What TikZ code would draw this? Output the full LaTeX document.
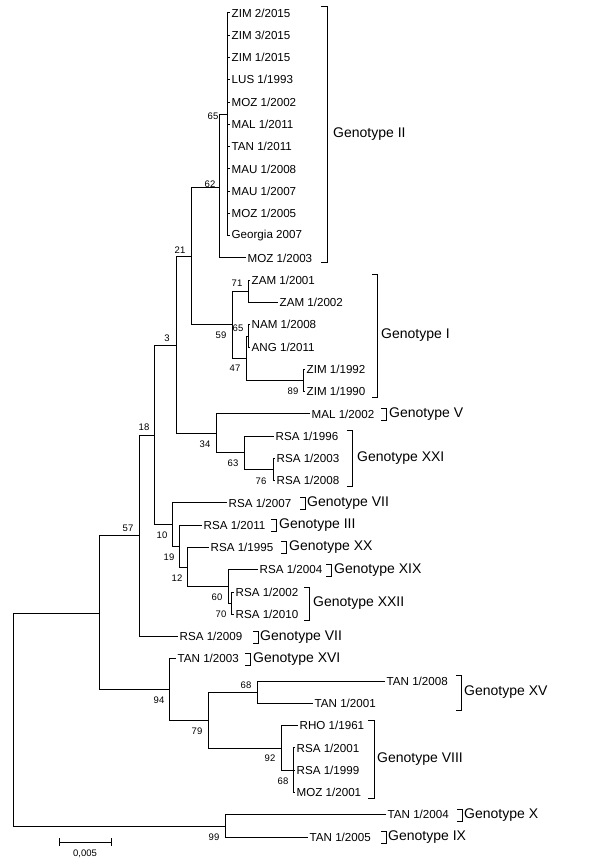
\documentclass[tikz,border=0pt]{standalone}
\usepackage{fontspec}
\setmainfont{Liberation Sans}
\usetikzlibrary{calc, positioning}

\tikzset{
  tip/.style={anchor=west, inner sep=1.5pt, font=\fontsize{11.6}{13}\selectfont},
  boot/.style={inner sep=0pt, font=\fontsize{9.5}{11}\selectfont},
  geno/.style={anchor=west, inner sep=0pt, font=\fontsize{14}{16}\selectfont},
  branch/.style={line width=1pt},
  bracket/.style={line width=0.9pt},
}

\begin{document}
\begin{tikzpicture}[x=1pt, y=-1pt]
  \useasboundingbox (0,0) rectangle (600,866);

  % Internal nodes of the tree
  \coordinate (root) at (13,720);
  \coordinate (n0) at (99,613);
  \coordinate (n57) at (139,535);
  \coordinate (n18) at (154,435);
  \coordinate (n3) at (176,345);
  \coordinate (n21) at (191,257);
  \coordinate (n62) at (219,188);
  \coordinate (n65a) at (227,115);
  \coordinate (n59) at (232,324);
  \coordinate (n71) at (248,291);
  \coordinate (n47) at (246,358);
  \coordinate (n65b) at (248,336);
  \coordinate (n89) at (303,380);
  \coordinate (n34) at (216,433);
  \coordinate (n63) at (244,452);
  \coordinate (n76) at (273,469);
  \coordinate (n10) at (172,524);
  \coordinate (n19) at (179,546);
  \coordinate (n12) at (187,567);
  \coordinate (n60) at (228,586);
  \coordinate (n70) at (231,603);
  \coordinate (n94) at (169,689);
  \coordinate (n79) at (208,720);
  \coordinate (n68a) at (257,692);
  \coordinate (n92) at (281,748);
  \coordinate (n68b) at (293,770);
  \coordinate (n99) at (225,826);

  % Tips
  \node[tip] (zim22015) at (230,13) {ZIM 2/2015};
  \node[tip] (zim32015) at (230,35.3) {ZIM 3/2015};
  \node[tip] (zim12015) at (230,57.5) {ZIM 1/2015};
  \node[tip] (lus11993) at (230,79.8) {LUS 1/1993};
  \node[tip] (moz12002) at (230,102.1) {MOZ 1/2002};
  \node[tip] (mal12011) at (230,124.4) {MAL 1/2011};
  \node[tip] (tan12011) at (230,146.6) {TAN 1/2011};
  \node[tip] (mau12008) at (230,168.9) {MAU 1/2008};
  \node[tip] (mau12007) at (230,191.2) {MAU 1/2007};
  \node[tip] (moz12005) at (230,213.4) {MOZ 1/2005};
  \node[tip] (geo2007) at (230,235.7) {Georgia 2007};
  \node[tip] (moz12003) at (246,258) {MOZ 1/2003};
  \node[tip] (zam12001) at (250,280.2) {ZAM 1/2001};
  \node[tip] (zam12002) at (278,302.5) {ZAM 1/2002};
  \node[tip] (nam12008) at (250,324.8) {NAM 1/2008};
  \node[tip] (ang12011) at (250,347) {ANG 1/2011};
  \node[tip] (zim11992) at (305,369.3) {ZIM 1/1992};
  \node[tip] (zim11990) at (305,391.6) {ZIM 1/1990};
  \node[tip] (mal12002) at (310,413.9) {MAL 1/2002};
  \node[tip] (rsa11996) at (274,436.1) {RSA 1/1996};
  \node[tip] (rsa12003) at (275,458.4) {RSA 1/2003};
  \node[tip] (rsa12008) at (275,480.7) {RSA 1/2008};
  \node[tip] (rsa12007) at (227,502.9) {RSA 1/2007};
  \node[tip] (rsa12011) at (202,525.2) {RSA 1/2011};
  \node[tip] (rsa11995) at (209,547.5) {RSA 1/1995};
  \node[tip] (rsa12004) at (258,569.8) {RSA 1/2004};
  \node[tip] (rsa12002) at (234,592) {RSA 1/2002};
  \node[tip] (rsa12010) at (234,614.3) {RSA 1/2010};
  \node[tip] (rsa12009) at (178,636.6) {RSA 1/2009};
  \node[tip] (tan12003) at (176,658.8) {TAN 1/2003};
  \node[tip] (tan12008) at (385,681.1) {TAN 1/2008};
  \node[tip] (tan12001) at (313,703.4) {TAN 1/2001};
  \node[tip] (rho11961) at (298,725.6) {RHO 1/1961};
  \node[tip] (rsa12001) at (295,747.9) {RSA 1/2001};
  \node[tip] (rsa11999) at (295,770.2) {RSA 1/1999};
  \node[tip] (moz12001) at (295,792.5) {MOZ 1/2001};
  \node[tip] (tan12004) at (386,814.7) {TAN 1/2004};
  \node[tip] (tan12005) at (308,837) {TAN 1/2005};

  % Branches
  \draw[branch] (root) |- (n0);
  \draw[branch] (root) |- (n99);
  \draw[branch] (n0) |- (n57);
  \draw[branch] (n0) |- (n94);
  \draw[branch] (n57) |- (n18);
  \draw[branch] (n57) |- (rsa12009.west);
  \draw[branch] (n18) |- (n3);
  \draw[branch] (n18) |- (n10);
  \draw[branch] (n3) |- (n21);
  \draw[branch] (n3) |- (n34);
  \draw[branch] (n21) |- (n62);
  \draw[branch] (n21) |- (n59);
  \draw[branch] (n62) |- (n65a);
  \draw[branch] (n62) |- (moz12003.west);
  \draw[branch] (n65a) |- (zim22015.west);
  \draw[branch] (n65a) |- (zim32015.west);
  \draw[branch] (n65a) |- (zim12015.west);
  \draw[branch] (n65a) |- (lus11993.west);
  \draw[branch] (n65a) |- (moz12002.west);
  \draw[branch] (n65a) |- (mal12011.west);
  \draw[branch] (n65a) |- (tan12011.west);
  \draw[branch] (n65a) |- (mau12008.west);
  \draw[branch] (n65a) |- (mau12007.west);
  \draw[branch] (n65a) |- (moz12005.west);
  \draw[branch] (n65a) |- (geo2007.west);
  \draw[branch] (n59) |- (n71);
  \draw[branch] (n59) |- (n47);
  \draw[branch] (n71) |- (zam12001.west);
  \draw[branch] (n71) |- (zam12002.west);
  \draw[branch] (n47) |- (n65b);
  \draw[branch] (n47) |- (n89);
  \draw[branch] (n65b) |- (nam12008.west);
  \draw[branch] (n65b) |- (ang12011.west);
  \draw[branch] (n89) |- (zim11992.west);
  \draw[branch] (n89) |- (zim11990.west);
  \draw[branch] (n34) |- (mal12002.west);
  \draw[branch] (n34) |- (n63);
  \draw[branch] (n63) |- (rsa11996.west);
  \draw[branch] (n63) |- (n76);
  \draw[branch] (n76) |- (rsa12003.west);
  \draw[branch] (n76) |- (rsa12008.west);
  \draw[branch] (n10) |- (rsa12007.west);
  \draw[branch] (n10) |- (n19);
  \draw[branch] (n19) |- (rsa12011.west);
  \draw[branch] (n19) |- (n12);
  \draw[branch] (n12) |- (rsa11995.west);
  \draw[branch] (n12) |- (n60);
  \draw[branch] (n60) |- (rsa12004.west);
  \draw[branch] (n60) |- (n70);
  \draw[branch] (n70) |- (rsa12002.west);
  \draw[branch] (n70) |- (rsa12010.west);
  \draw[branch] (n94) |- (tan12003.west);
  \draw[branch] (n94) |- (n79);
  \draw[branch] (n79) |- (n68a);
  \draw[branch] (n79) |- (n92);
  \draw[branch] (n68a) |- (tan12008.west);
  \draw[branch] (n68a) |- (tan12001.west);
  \draw[branch] (n92) |- (rho11961.west);
  \draw[branch] (n92) |- (n68b);
  \draw[branch] (n68b) |- (rsa12001.west);
  \draw[branch] (n68b) |- (rsa11999.west);
  \draw[branch] (n68b) |- (moz12001.west);
  \draw[branch] (n99) |- (tan12004.west);
  \draw[branch] (n99) |- (tan12005.west);

  % Bootstrap values
  \node[boot] (l65a) at (213,116) {65};
  \node[boot] (l62) at (210,184) {62};
  \node[boot] (l21) at (180,250) {21};
  \node[boot] (l3) at (167,338) {3};
  \node[boot] (l18) at (144,427) {18};
  \node[boot] (l57) at (128,528) {57};
  \node[boot] (l59) at (221,335) {59};
  \node[boot] (l71) at (237,283) {71};
  \node[boot] (l65b) at (238,328) {65};
  \node[boot] (l47) at (235,368) {47};
  \node[boot] (l89) at (293,391) {89};
  \node[boot] (l34) at (205,444) {34};
  \node[boot] (l63) at (233,463) {63};
  \node[boot] (l76) at (261,481) {76};
  \node[boot] (l10) at (162,535) {10};
  \node[boot] (l19) at (169,557) {19};
  \node[boot] (l12) at (177,578) {12};
  \node[boot] (l60) at (217,597) {60};
  \node[boot] (l70) at (221,614) {70};
  \node[boot] (l94) at (159,700) {94};
  \node[boot] (l79) at (197,731) {79};
  \node[boot] (l68a) at (246,685) {68};
  \node[boot] (l92) at (270,758) {92};
  \node[boot] (l68b) at (283,781) {68};
  \node[boot] (l99) at (214,837) {99};

  % Genotype brackets
  \draw[bracket] (321,6) -- (327,6) -- (327,262) -- (321,262);
  \node[geno] (gII) at (333,134) {Genotype II};
  \draw[bracket] (372,274) -- (377,274) -- (377,397) -- (372,397);
  \node[geno] (gI) at (381,335.5) {Genotype I};
  \draw[bracket] (381,408) -- (386,408) -- (386,420) -- (381,420);
  \node[geno] (gV) at (389,414) {Genotype V};
  \draw[bracket] (347,430) -- (352,430) -- (352,486) -- (347,486);
  \node[geno] (gXXI) at (357,458) {Genotype XXI};
  \draw[bracket] (300,497) -- (305,497) -- (305,509) -- (300,509);
  \node[geno] (gVIIa) at (307,503) {Genotype VII};
  \draw[bracket] (271,519) -- (276,519) -- (276,531) -- (271,531);
  \node[geno] (gIII) at (279,525) {Genotype III};
  \draw[bracket] (281,541) -- (286,541) -- (286,553) -- (281,553);
  \node[geno] (gXX) at (289,547.5) {Genotype XX};
  \draw[bracket] (326,564) -- (331,564) -- (331,576) -- (326,576);
  \node[geno] (gXIX) at (334,570) {Genotype XIX};
  \draw[bracket] (304,587) -- (309,587) -- (309,620) -- (304,620);
  \node[geno] (gXXII) at (313,603) {Genotype XXII};
  \draw[bracket] (253,631) -- (258,631) -- (258,643) -- (253,643);
  \node[geno] (gVIIb) at (260,637) {Genotype VII};
  \draw[bracket] (245,653) -- (250,653) -- (250,665) -- (245,665);
  \node[geno] (gXVI) at (253,659) {Genotype XVI};
  \draw[bracket] (456,675) -- (461,675) -- (461,710) -- (456,710);
  \node[geno] (gXV) at (464,692) {Genotype XV};
  \draw[bracket] (368,720) -- (374,720) -- (374,798) -- (368,798);
  \node[geno] (gVIII) at (377,759) {Genotype VIII};
  \draw[bracket] (457,809) -- (462,809) -- (462,821) -- (457,821);
  \node[geno] (gX) at (464,815) {Genotype X};
  \draw[bracket] (381,831) -- (386,831) -- (386,843) -- (381,843);
  \node[geno] (gIX) at (388,837) {Genotype IX};

  % Scale bar
  \coordinate (sbl) at (59,842);
  \coordinate (sbr) at (111,842);
  \draw[branch] (sbl) -- (sbr);
  \draw[branch] ($(sbl)+(0,-4)$) -- ($(sbl)+(0,4)$);
  \draw[branch] ($(sbr)+(0,-4)$) -- ($(sbr)+(0,4)$);
  \node[boot] (sblab) at (85,854) {0,005};
\end{tikzpicture}
\end{document}
